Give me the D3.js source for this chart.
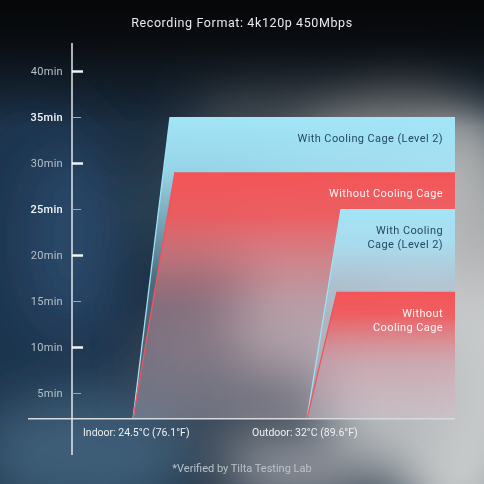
<!DOCTYPE html>
<html>
<head>
<meta charset="utf-8">
<script src="https://cdn.jsdelivr.net/npm/d3@7"></script>
<style>
  html, body { margin: 0; padding: 0; background: #111; }
  svg { display: block; }
  text { font-family: Roboto, "DejaVu Sans", sans-serif; }
</style>
</head>
<body>
<svg id="canvas" width="484" height="484"></svg>
<script>
// values
var groups = ['Indoor: 24.5°C (76.1°F)', 'Outdoor: 32°C (89.6°F)'];
var seriesNames = ['With Cooling Cage (Level 2)', 'Without Cooling Cage'];
var withCage = [35, 25];
var withoutCage = [29, 16];
var yTicks = [5, 10, 15, 20, 25, 30, 35, 40];
var shapeLabels = [
    [['With Cooling Cage (Level 2)'], ['Without Cooling Cage']],
    [['With Cooling', 'Cage (Level 2)'], ['Without', 'Cooling Cage']]
];
var title = 'Recording Format: 4k120p 450Mbps';
var footnote = '*Verified by Tilta Testing Lab';

(function() {
    var W = 484, H = 484;
    var baseMin = 2.2;       // value where the baseline sits
    var rightEdge = 455;
    var lean = [[37, 42], [34, 30]];   // how far the top-left corner leans right
    var svg = d3.select('#canvas');
    var defs = svg.append('defs');

    var y = d3.scaleLinear().domain([5, 40]).range([393, 71]);
    var x = d3.scaleBand().domain(groups).range([133, 481]);

    // ---- smoky background ----
    defs.append('filter').attr('id', 'blur')
        .attr('x', '-50%').attr('y', '-50%').attr('width', '200%').attr('height', '200%')
        .append('feGaussianBlur').attr('stdDeviation', 26);

    var top = defs.append('linearGradient').attr('id', 'topDark')
        .attr('x1', 0).attr('y1', 0).attr('x2', 0).attr('y2', 1);
    top.append('stop').attr('offset', 0).attr('stop-color', '#060709').attr('stop-opacity', 1);
    top.append('stop').attr('offset', 0.08).attr('stop-color', '#090b0e').attr('stop-opacity', 0.95);
    top.append('stop').attr('offset', 0.26).attr('stop-color', '#0a0c0f').attr('stop-opacity', 0);

    svg.append('rect').attr('width', W).attr('height', H).attr('fill', '#1a2c3e');

    var smoke = svg.append('g').attr('filter', 'url(#blur)');
    var blobs = [
        [30, 300, 110, 220, '#1c3650', 1],
        [70, 240, 40, 90, '#2e5070', 0.8],
        [90, 455, 110, 60, '#3d5d77', 1],
        [215, 370, 80, 70, '#3a4858', 1],
        [280, 110, 90, 40, '#50585e', 0.9],
        [400, 140, 90, 70, '#7c8082', 1],
        [320, 230, 90, 70, '#8c9296', 0.9],
        [300, 310, 60, 60, '#a4aaae', 0.9],
        [460, 340, 90, 200, '#c8cacb', 1],
        [475, 200, 45, 90, '#aeb0b1', 1],
        [390, 390, 70, 80, '#b8bcbe', 1],
        [300, 470, 80, 40, '#8d9098', 1],
        [180, 200, 50, 60, '#34485a', 0.7]
    ];
    smoke.selectAll('ellipse').data(blobs).enter().append('ellipse')
        .attr('cx', function(d) { return d[0]; })
        .attr('cy', function(d) { return d[1]; })
        .attr('rx', function(d) { return d[2]; })
        .attr('ry', function(d) { return d[3]; })
        .attr('fill', function(d) { return d[4]; })
        .attr('opacity', function(d) { return d[5]; });

    svg.append('rect').attr('width', W).attr('height', H).attr('fill', 'url(#topDark)');

    // ---- gradients for the shapes ----
    function fade(id, color, mid, low) {
        var g = defs.append('linearGradient').attr('id', id)
            .attr('x1', 0).attr('y1', 0).attr('x2', 0).attr('y2', 1);
        g.append('stop').attr('offset', 0).attr('stop-color', color).attr('stop-opacity', 1);
        g.append('stop').attr('offset', 0.18).attr('stop-color', color).attr('stop-opacity', 0.9);
        g.append('stop').attr('offset', 0.55).attr('stop-color', mid).attr('stop-opacity', 0.35);
        g.append('stop').attr('offset', 1).attr('stop-color', low).attr('stop-opacity', 0.18);
    }
    fade('blueFade', '#a3e5f8', '#9fd3e4', '#b8d0dc');
    fade('redFade', '#f45456', '#ea7c84', '#e6b2ba');

    var fills = ['url(#blueFade)', 'url(#redFade)'];
    var edges = ['#9fe2f7', '#f2545e'];
    var textColors = ['#244a62', '#fff4f4'];

    var shapes = [];
    groups.forEach(function(g, gi) {
        [withCage[gi], withoutCage[gi]].forEach(function(v, si) {
            shapes.push({ group: g, gi: gi, si: si, value: v });
        });
    });

    var yBase = y(baseMin);
    var layer = svg.append('g').attr('class', 'shapes');
    shapes.forEach(function(d) {
        var x0 = x(d.group);
        var yTop = y(d.value);
        var xTop = x0 + lean[d.gi][d.si];
        var pts = [[x0, yBase], [xTop, yTop], [rightEdge, yTop], [rightEdge, yBase]];
        layer.append('path')
            .attr('d', d3.line()(pts) + 'Z')
            .attr('fill', fills[d.si]);
        layer.append('line')
            .attr('x1', x0).attr('y1', yBase)
            .attr('x2', xTop).attr('y2', yTop)
            .attr('stroke', edges[d.si])
            .attr('stroke-width', 1.3);
        var lines = shapeLabels[d.gi][d.si];
        var t = layer.append('text')
            .attr('x', rightEdge - 12)
            .attr('y', yTop + 25)
            .attr('text-anchor', 'end')
            .attr('font-size', '11px')
            .attr('letter-spacing', '0.4px')
            .attr('fill', textColors[d.si]);
        lines.forEach(function(s, i) {
            t.append('tspan')
                .attr('x', rightEdge - 12)
                .attr('dy', i === 0 ? 0 : 14)
                .text(s);
        });
    });

    // ---- axes ----
    svg.append('line')
        .attr('x1', 28).attr('x2', rightEdge)
        .attr('y1', yBase).attr('y2', yBase)
        .attr('stroke', '#d6dadd').attr('stroke-width', 1.5);

    svg.append('line')
        .attr('x1', 72).attr('x2', 72)
        .attr('y1', 43).attr('y2', 455)
        .attr('stroke', '#e4e8ec').attr('stroke-width', 1.5);

    var axis = svg.append('g')
        .attr('transform', 'translate(72,0)')
        .call(d3.axisLeft(y).tickValues(yTicks).tickSize(-10).tickPadding(9)
            .tickFormat(function(d) { return d + 'min'; }));
    axis.select('.domain').remove();
    axis.selectAll('.tick line')
        .attr('x2', function(d) { return d % 10 === 0 ? 11 : 9; })
        .attr('stroke', function(d) { return d % 10 === 0 ? '#f2f4f6' : '#9aa8b4'; })
        .attr('stroke-width', function(d) { return d % 10 === 0 ? 2.5 : 1; });
    axis.selectAll('.tick text')
        .attr('font-family', 'Roboto, "DejaVu Sans", sans-serif')
        .attr('font-size', '11px')
        .attr('letter-spacing', '0.3px')
        .attr('fill', function(d) { return withCage.indexOf(d) >= 0 ? '#f4f6f8' : '#b4c0ca'; })
        .attr('font-weight', function(d) { return withCage.indexOf(d) >= 0 ? 500 : 400; });

    svg.selectAll('.group-label').data(groups).enter().append('text')
        .attr('class', 'group-label')
        .attr('x', function(d, i) { return x(d) - 50 - 5 * i; })
        .attr('y', 436)
        .attr('font-size', '10.5px')
        .attr('fill', '#eef1f4')
        .text(function(d) { return d; });

    svg.append('text')
        .attr('x', W / 2).attr('y', 27)
        .attr('text-anchor', 'middle')
        .attr('font-size', '12.5px')
        .attr('letter-spacing', '0.6px')
        .attr('fill', '#e8eaec')
        .text(title);

    svg.append('text')
        .attr('x', W / 2).attr('y', 472)
        .attr('text-anchor', 'middle')
        .attr('font-size', '11px')
        .attr('fill', '#b9c2ca')
        .text(footnote);
})();
</script>
</body>
</html>
